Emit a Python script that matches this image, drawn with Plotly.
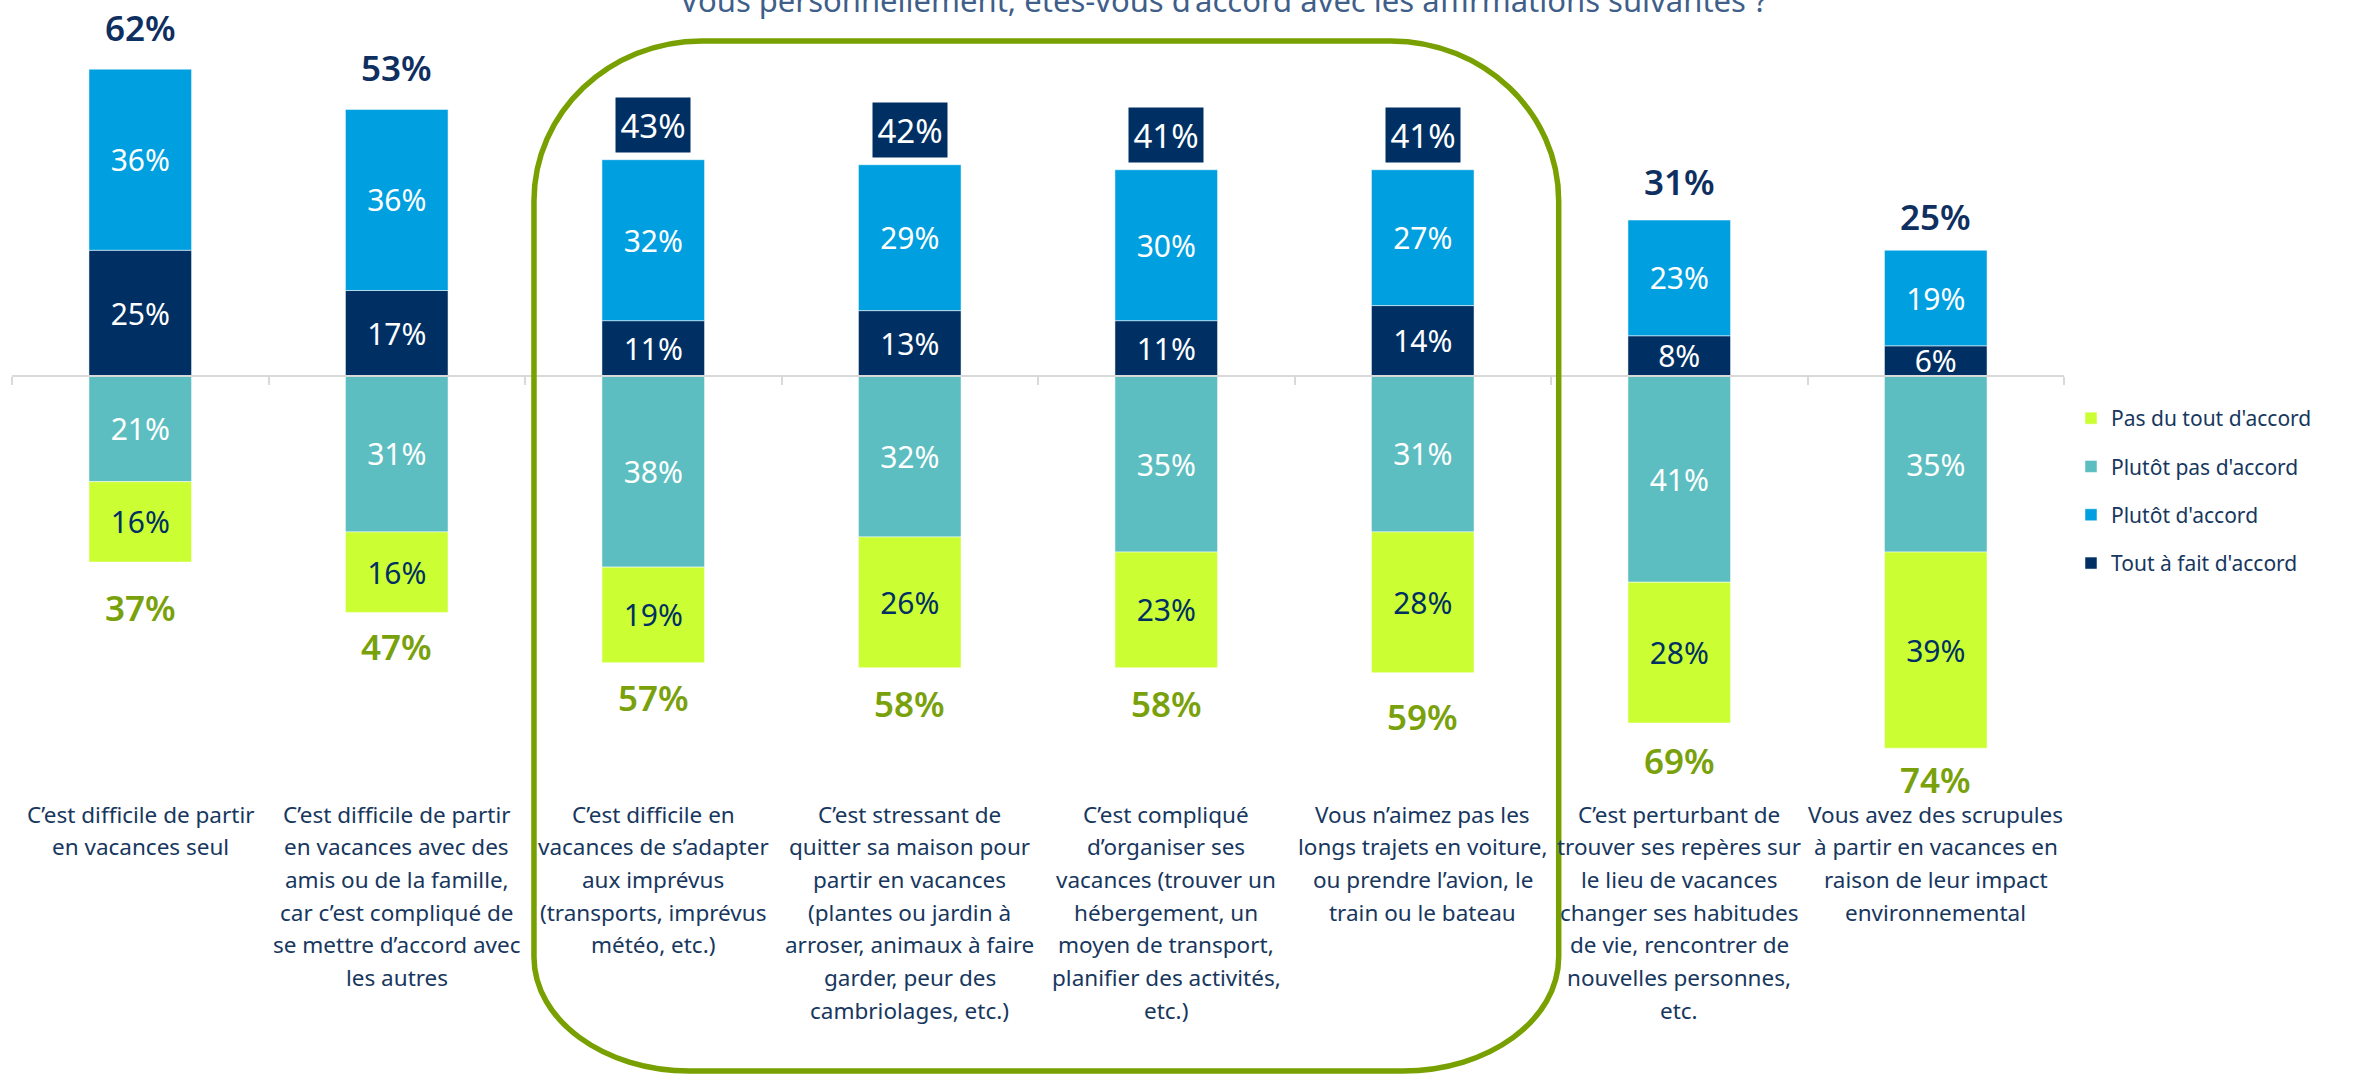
import plotly.graph_objects as go

# Survey statements (one list of wrapped lines per statement)
statements = [
    ["C’est difficile de partir", "en vacances seul"],
    ["C’est difficile de partir", "en vacances avec des", "amis ou de la famille,",
     "car c’est compliqué de", "se mettre d’accord avec", "les autres"],
    ["C’est difficile en", "vacances de s’adapter", "aux imprévus",
     "(transports, imprévus", "météo, etc.)"],
    ["C’est stressant de", "quitter sa maison pour", "partir en vacances",
     "(plantes ou jardin à", "arroser, animaux à faire", "garder, peur des",
     "cambriolages, etc.)"],
    ["C’est compliqué", "d’organiser ses", "vacances (trouver un", "hébergement, un",
     "moyen de transport,", "planifier des activités,", "etc.)"],
    ["Vous n’aimez pas les", "longs trajets en voiture,", "ou prendre l’avion, le",
     "train ou le bateau"],
    ["C’est perturbant de", "trouver ses repères sur", "le lieu de vacances",
     "changer ses habitudes", "de vie, rencontrer de", "nouvelles personnes,", "etc."],
    ["Vous avez des scrupules", "à partir en vacances en", "raison de leur impact",
     "environnemental"],
]

tout_a_fait = [25, 17, 11, 13, 11, 14, 8, 6]
plutot_accord = [36, 36, 32, 29, 30, 27, 23, 19]
plutot_pas = [21, 31, 38, 32, 35, 31, 41, 35]
pas_du_tout = [16, 16, 19, 26, 23, 28, 28, 39]

# net totals as published (rounded independently of the segments)
total_accord = [62, 53, 43, 42, 41, 41, 31, 25]
total_pas_accord = [37, 47, 57, 58, 58, 59, 69, 74]

highlighted = [2, 3, 4, 5]

title_text = "Vous personnellement, êtes-vous d’accord avec les affirmations suivantes ?"

# ---- page geometry (pixels) ----
W, H = 2376, 1076
ML, MR = 12, 312
PW = W - ML - MR
ZERO_PX = 376
PX_PER_PT = 5.03
n = len(statements)
x = list(range(n))

FONT = "Noto Sans"
NAVY = "#003063"
BLUE = "#009FE0"
TEAL = "#5CBEC0"
LIME = "#CCFF33"
OLIVE = "#77A000"
TEXT_NAVY = "#17375E"
TITLE_COL = "#3F5F8A"


def px_to_paper_y(py):
    return 1 - py / H


def slot_to_paper_x(xv):
    return (xv + 0.5) / n


fig = go.Figure()


def add_bar(name, vals, sign, color, text_color, rank):
    fig.add_trace(go.Bar(
        x=x, y=[sign * v for v in vals], name=name,
        marker=dict(color=color, line=dict(width=1, color="rgba(255,255,255,0.5)")),
        width=0.4,
        text=[f"{v}%" for v in vals],
        textposition="inside", insidetextanchor="middle", textangle=0,
        constraintext="none",
        textfont=dict(family=FONT, size=30, color=text_color),
        legendgroup=name, legendrank=rank, hoverinfo="skip",
    ))


add_bar("Tout à fait d'accord", tout_a_fait, 1, NAVY, "white", 4)
add_bar("Plutôt d'accord", plutot_accord, 1, BLUE, "white", 3)
add_bar("Plutôt pas d'accord", plutot_pas, -1, TEAL, "white", 2)
add_bar("Pas du tout d'accord", pas_du_tout, -1, LIME, NAVY, 1)

annotations = []

# totals above the bars (boxed for the framed group)
top_shift = [42, 42, 35, 35, 35, 35, 39, 34]
for i, t in enumerate(total_accord):
    top = tout_a_fait[i] + plutot_accord[i]
    if i in highlighted:
        annotations.append(dict(
            x=i, y=top, xref="x", yref="y", text=f"{t}%", showarrow=False,
            yanchor="middle", yshift=top_shift[i], width=72, height=52,
            bgcolor=NAVY, font=dict(family=FONT, size=33, color="white"),
        ))
    else:
        annotations.append(dict(
            x=i, y=top, xref="x", yref="y", text=f"{t}%", showarrow=False,
            yanchor="middle", yshift=top_shift[i],
            font=dict(family=FONT, size=35, color="#0E2F5F", weight=600),
        ))

# totals below the bars
low_shift = [45, 34, 35, 36, 36, 44, 37, 31]
for i, t in enumerate(total_pas_accord):
    bottom = plutot_pas[i] + pas_du_tout[i]
    annotations.append(dict(
        x=i, y=-bottom, xref="x", yref="y", text=f"{t}%", showarrow=False,
        yanchor="middle", yshift=-low_shift[i],
        font=dict(family=FONT, size=35, color="#79A10C", weight=600),
    ))

# statement labels, one annotation per line for a fixed line pitch
FIRST_LINE_PX = 814
LINE_PITCH = 32.7
for i, lines in enumerate(statements):
    for k, line in enumerate(lines):
        annotations.append(dict(
            x=i, xref="x", y=px_to_paper_y(FIRST_LINE_PX + k * LINE_PITCH), yref="paper",
            text=line, showarrow=False, xanchor="center", yanchor="middle",
            font=dict(family=FONT, size=22.5, color=TEXT_NAVY),
        ))

# heading, partly above the page edge
annotations.append(dict(
    x=(1223 - ML) / PW, xref="paper", y=px_to_paper_y(0), yref="paper",
    text=title_text, showarrow=False, xanchor="center", yanchor="middle",
    font=dict(family=FONT, size=31, color=TITLE_COL),
))

# rounded frame around the highlighted statements
left = slot_to_paper_x(highlighted[0] - 0.465)
right = slot_to_paper_x(highlighted[-1] + 0.53)
top = px_to_paper_y(41)
bottom = px_to_paper_y(1071)
rx_t, ry_t = 168 / PW, 160 / H
rx_b, ry_b = 156 / PW, 114 / H
k = 0.5523
path = (
    f"M {left + rx_t},{top} L {right - rx_t},{top} "
    f"C {right - rx_t + k * rx_t},{top} {right},{top - ry_t + k * ry_t} {right},{top - ry_t} "
    f"L {right},{bottom + ry_b} "
    f"C {right},{bottom + ry_b - k * ry_b} {right - rx_b + k * rx_b},{bottom} {right - rx_b},{bottom} "
    f"L {left + rx_b},{bottom} "
    f"C {left + rx_b - k * rx_b},{bottom} {left},{bottom + ry_b - k * ry_b} {left},{bottom + ry_b} "
    f"L {left},{top - ry_t} "
    f"C {left},{top - ry_t + k * ry_t} {left + rx_t - k * rx_t},{top} {left + rx_t},{top} Z"
)
shapes = [dict(type="path", xref="paper", yref="paper", path=path,
               line=dict(color=OLIVE, width=5.5), fillcolor="rgba(0,0,0,0)")]

fig.update_layout(
    width=W, height=H,
    margin=dict(l=ML, r=MR, t=0, b=0, pad=0),
    barmode="relative",
    paper_bgcolor="white", plot_bgcolor="white",
    font=dict(family=FONT, color=TEXT_NAVY),
    showlegend=True,
    legend=dict(
        x=(2071 - ML) / PW, xanchor="left", y=px_to_paper_y(398), yanchor="top",
        font=dict(family=FONT, size=21, color=TEXT_NAVY),
        tracegroupgap=18, bgcolor="rgba(0,0,0,0)",
    ),
    xaxis=dict(
        range=[-0.5, n - 0.5], anchor="free", position=px_to_paper_y(ZERO_PX),
        showline=True, linecolor="#D9D9D9", linewidth=2,
        ticks="outside", ticklen=8, tickwidth=2, tickcolor="#D9D9D9",
        tickmode="linear", tick0=-0.5, dtick=1,
        showticklabels=False, showgrid=False, zeroline=False,
    ),
    yaxis=dict(
        range=[-(H - ZERO_PX) / PX_PER_PT, ZERO_PX / PX_PER_PT],
        visible=False, showgrid=False, zeroline=False,
    ),
    uniformtext=dict(minsize=30, mode="show"),
    annotations=annotations,
    shapes=shapes,
)

fig.write_html("out.html")
